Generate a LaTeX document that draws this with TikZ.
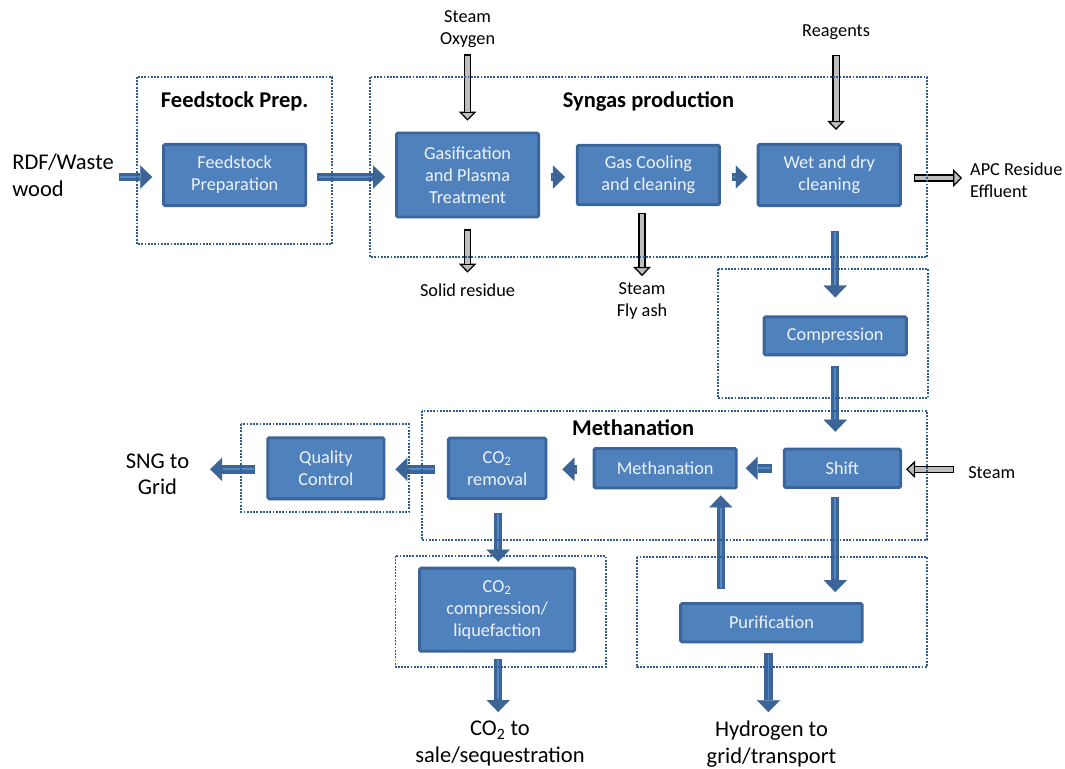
\documentclass[tikz,border=0pt]{standalone}
\usepackage{fontspec}
\setmainfont{Carlito}
\usetikzlibrary{arrows.meta,calc,positioning}

\definecolor{boxfill}{HTML}{4F81BD}
\definecolor{boxline}{HTML}{3A659A}
\definecolor{boxtext}{HTML}{EEF3FA}
\definecolor{flowblue}{HTML}{3C6597}
\definecolor{flowlight}{HTML}{5687C2}
\definecolor{groupline}{HTML}{2F5B8F}
\definecolor{sidegrey}{HTML}{BEBEBE}

\begin{document}
\begin{tikzpicture}[x=0.025cm, y=-0.025cm]
  \tikzstyle{box} = [rectangle, draw=boxline, fill=boxfill, line width=2pt,
    rounded corners=1pt, text=boxtext, align=center, inner sep=2pt,
    minimum width=3.555cm, minimum height=1.53cm,
    font=\fontsize{13}{15.6}\selectfont]
  \tikzstyle{sidelabel} = [align=center, font=\fontsize{13}{15.6}\selectfont]
  \tikzstyle{mainlabel} = [align=left, font=\fontsize{16}{18.9}\selectfont]
  \tikzstyle{title} = [font=\fontsize{16}{19}\selectfont\bfseries]
  \tikzstyle{group} = [draw=groupline, line width=1.3pt, dash pattern=on 1.3pt off 1pt]
  \tikzstyle{flow} = [draw=flowblue, line width=6pt,
    -{Triangle[length=8.5pt, width=16.5pt, line width=0.1pt]},
    postaction={draw=flowlight, line width=1.3pt, -, shorten >=9pt, shorten <=1pt}]
  \tikzstyle{side} = [draw=black, line width=5.3pt,
    -{Triangle[length=6.5pt, width=12.5pt, line width=0.9pt, fill=sidegrey]},
    postaction={draw=sidegrey, line width=3.5pt, -, shorten >=6.5pt, shorten <=0.9pt}]

  \useasboundingbox (0,0) rectangle (1065,769);

  % Place nodes
  \node [box] (feed) at (234.7,175) {Feedstock\\Preparation};
  \node [box, right of=feed, node distance=5.82cm, minimum height=2.095cm] (gasif)
    {Gasification\\and Plasma\\Treatment};
  \node [box, right of=gasif, node distance=4.52cm, minimum height=1.49cm] (cool)
    {Gas Cooling\\and cleaning};
  \node [box, right of=cool, node distance=4.52cm] (wet) {Wet and dry\\cleaning};
  \node [box, below of=wet, node distance=4.02cm, xshift=0.15cm,
    minimum height=0.95cm] (cmp) {Compression};
  \node [box, below of=cmp, node distance=3.31cm, xshift=0.18cm,
    minimum width=2.91cm, minimum height=0.96cm] (shift) {Shift};
  \node [box, left of=shift, node distance=4.43cm, minimum height=0.99cm] (meth)
    {Methanation};
  \node [box, left of=meth, node distance=4.2cm, minimum width=2.44cm,
    minimum height=1.51cm] (co2rem) {CO\textsubscript{2}\\removal};
  \node [box, left of=co2rem, node distance=4.28cm, minimum width=2.905cm] (qc)
    {Quality\\Control};
  \node [box, below of=co2rem, node distance=3.535cm, minimum width=3.875cm,
    minimum height=2.08cm] (co2cmp) {CO\textsubscript{2}\\compression/\\liquefaction};
  \node [box, below of=shift, node distance=3.86cm, xshift=-1.775cm,
    minimum width=4.54cm, minimum height=0.96cm] (purif) {Purification};

  \node [title, above of=feed, node distance=1.85cm] (tfeed) {Feedstock Prep.};
  \node [title, above of=cool, node distance=1.83cm] (tsyngas) {Syngas production};
  \node [title, above of=meth, node distance=1.01cm, xshift=-0.8cm] (tmeth) {Methanation};

  \node [mainlabel, left of=feed, node distance=4.29cm] (rdf) {RDF/Waste\\wood};
  \node [sidelabel, above of=gasif, node distance=3.65cm] (so) {Steam\\Oxygen};
  \node [sidelabel, above of=wet, node distance=3.56cm, xshift=0.17cm] (reag) {Reagents};
  \node [sidelabel, below of=gasif, node distance=2.875cm] (solid) {Solid residue};
  \node [sidelabel, below of=cool, node distance=3.16cm, xshift=-0.16cm] (flyash)
    {Steam\\Fly ash};
  \node [sidelabel, align=left, right of=wet, node distance=4.675cm, yshift=-0.13cm] (apc)
    {APC Residue\\Effluent};
  \node [sidelabel, right of=shift, node distance=3.73cm, yshift=-0.12cm] (steamin) {Steam};
  \node [mainlabel, align=center, left of=qc, node distance=4.21cm, yshift=-0.15cm] (sng)
    {SNG to\\Grid};
  \node [mainlabel, align=center, below of=co2cmp, node distance=3.34cm, xshift=0.07cm] (co2out)
    {CO\textsubscript{2} to\\sale/sequestration};
  \node [mainlabel, align=center, below of=purif, node distance=3.035cm] (h2out)
    {Hydrogen to\\grid/transport};

  % Draw edges
  \draw [flow] ($(rdf.east |- feed)+(0,2)$) -- ($(feed.west)+(-10,2)$);
  \draw [flow] ($(feed.east)+(10,2)$) -- ($(gasif.west)+(-10,2)$);
  \draw [flow] ($(gasif.east)+(11,2)$) -- ($(cool.west)+(-11,2)$);
  \draw [flow] ($(cool.east)+(11,2)$) -- ($(wet.west)+(-9,2)$);
  \draw [flow] ($(wet.south -| cmp)+(0,24)$) -- ($(cmp.north)+(0,-18)$);
  \draw [flow] ($(cmp.south)+(0,10)$) -- ($(cmp |- shift.north)+(0,-16)$);
  \draw [flow] ($(cmp |- shift.south)+(0,8)$) -- ($(cmp |- purif.north)+(0,-10)$);
  \draw [flow] ($(purif.north -| meth.south east)+(-17,-13)$) -- ($(meth.south east)+(-17,6)$);
  \draw [flow] ($(shift.west)+(-11,0)$) -- ($(meth.east)+(8,0)$);
  \draw [flow] ($(meth.west)+(-16,1)$) -- ($(co2rem.east)+(15,1)$);
  \draw [flow] ($(co2rem.west)+(-12,1)$) -- ($(qc.east)+(10,1)$);
  \draw [flow] ($(qc.west)+(-11,1)$) -- ($(sng.east |- qc)+(16,1)$);
  \draw [flow] ($(co2rem.south)+(1,13)$) -- ($(co2cmp.north)+(1,-5)$);
  \draw [flow] ($(co2cmp.south)+(1,6)$) -- ($(co2cmp.south |- co2out.north)+(1,-4)$);
  \draw [flow] ($(purif.south)+(-3,10)$) -- ($(purif.south |- h2out.north)+(-3,-4)$);

  \draw [side] ($(so.south)+(0,2)$) -- ($(gasif.north)+(0,-11)$);
  \draw [side] ($(reag.south)+(0,10)$) -- ($(reag |- wet.north)+(0,-13)$);
  \draw [side] ($(gasif.south)+(0,11)$) -- ($(solid.north)+(0,-6)$);
  \draw [side] ($(cool.south -| flyash)+(0,7)$) -- ($(flyash.north)+(0,-2)$);
  \draw [side] ($(wet.east)+(12,3)$) -- ($(wet.east -| apc.west)+(-3,3)$);
  \draw [side] ($(steamin.west |- shift)+(-9,1)$) -- ($(shift.east)+(4,1)$);

  % Group frames
  \draw [group] (137,77) rectangle (332,244);
  \draw [group] (370,77) rectangle (927,257);
  \draw [group] (718,269) rectangle (928,398);
  \draw [group] (422,411) rectangle (927,540);
  \draw [group] (241,424) rectangle (409,512);
  \draw [group] (395.5,556) rectangle (606,667);
  \draw [group] (637,557) rectangle (927,667);
\end{tikzpicture}
\end{document}
